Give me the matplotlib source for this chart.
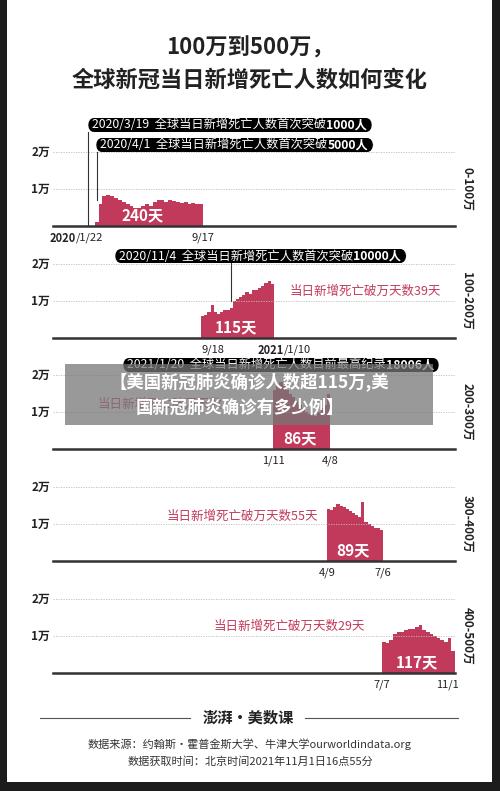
import numpy as np
import matplotlib.pyplot as plt
from matplotlib.patches import Rectangle, FancyBboxPatch

plt.rcParams['font.family'] = ['Noto Sans CJK SC', 'DejaVu Sans']

# daily deaths (10k units), sampled roughly every few days
p1 = [0, 0, 0.1, 0.6, 0.8, 0.85, 0.8, 0.75, 0.7, 0.65, 0.6, 0.55, 0.5, 0.5, 0.55,
      0.6, 0.55, 0.65, 0.7, 0.7, 0.65, 0.7, 0.68, 0.65, 0.62, 0.65, 0.6, 0.62, 0.6, 0.6]
p2 = [0.6, 0.62, 0.7, 0.9, 0.7, 0.65, 0.7, 0.75, 0.75, 0.8, 1.0, 1.05, 1.1, 1.15,
      1.25, 1.2, 1.3, 1.3, 1.35, 1.4, 1.5, 1.55, 1.45]
p3 = [1.6, 1.75, 1.8, 1.7, 1.6, 1.5, 1.4, 1.3, 1.2, 1.1, 1.0, 0.95, 0.95, 0.9, 1.0, 1.1, 1.2, 1.5]
p4 = [1.4, 1.38, 1.45, 1.55, 1.5, 1.45, 1.4, 1.35, 1.3, 1.25, 1.2, 1.6, 1.05, 1.0, 0.95, 0.9, 0.88, 0.85]
p5 = [0.85, 0.82, 0.9, 1.05, 1.1, 1.1, 1.15, 1.2, 1.2, 1.25, 1.3, 1.15, 1.1, 1.05, 1.0,
      0.95, 0.9, 0.85, 0.95, 0.6]
series = [p1, p2, p3, p4, p5]
ranges = ['0-100万', '100-200万', '200-300万', '300-400万', '400-500万']
days = ['240天', '115天', '86天', '89天', '117天']
starts = ['2020/1/22', '9/18', '1/11', '4/9', '7/7']
ends = ['9/17', '2021/1/10', '4/8', '7/6', '11/1']
wan_days = [None, '当日新增死亡破万天数39天', '当日新增死亡破万天数', '当日新增死亡破万天数55天', '当日新增死亡破万天数29天']

RED = '#c23a5b'
W, H = 500, 791
fig = plt.figure(figsize=(5, 7.91), dpi=100)
fig.patch.set_facecolor('#1c1c1c')

def fx(x):
    return x / W

def fy(y):
    return 1 - y / H

def txt(x, y, s, **kw):
    return fig.text(fx(x), fy(y), s, **kw)

bg = fig.add_axes([fx(7), fy(782), fx(485), 782 / H], zorder=-5)
bg.set_facecolor('white')
bg.set_xticks([]); bg.set_yticks([])
for s in bg.spines.values():
    s.set_visible(False)

txt(250, 48, '100万到500万，', ha='center', va='center', fontsize=16, fontweight='bold', color='#222')
txt(250, 80, '全球新冠当日新增死亡人数如何变化', ha='center', va='center', fontsize=16, fontweight='bold', color='#222')

bases = [226, 338, 449, 561, 673]
xspans = [(87, 203), (201, 274), (273, 330), (327, 383), (382, 455)]
unit = 37
for i, base in enumerate(bases):
    top = base - 2.1 * unit
    ax = fig.add_axes([fx(53), fy(base), fx(402), (base - top) / H], zorder=1)
    ax.set_xlim(53, 455)
    ax.set_ylim(0, 2.1)
    ax.axis('off')
    for g in (1, 2):
        ax.axhline(g, color='#bbb', lw=0.6, ls=(0, (1.5, 1.5)))
    ax.axhline(0, color='#333', lw=1.8, clip_on=False)
    vals = series[i]
    x0, x1 = xspans[i]
    w = (x1 - x0) / len(vals)
    xs = x0 + w * np.arange(len(vals))
    ax.bar(xs, vals, width=w * 1.02, align='edge', color=RED, linewidth=0)
    txt(50, base - unit, '1万', ha='right', va='center', fontsize=8.5, fontweight='bold', color='#222')
    txt(50, base - 2 * unit, '2万', ha='right', va='center', fontsize=8.5, fontweight='bold', color='#222')
    txt(467, base - unit, ranges[i], ha='center', va='center', rotation=-90, fontsize=8.5, fontweight='bold', color='#222')
    txt((x0 + x1) / 2 - 2, base - 11, days[i], ha='center', va='center',
        fontsize=11, fontweight='bold', color='white', zorder=3)
    if wan_days[i]:
        wx = [0, 365, 160, 242, 289][i]
        txt(wx, base - 47 if i in (1, 4) else base - 45, wan_days[i], ha='center', va='center', fontsize=9, color=RED)
    sy = base + 12
    if i == 0:
        txt(x0 - 37, sy, '2020', ha='left', va='center', fontsize=8, fontweight='bold', color='#222')
        txt(x0 - 11, sy, '/1/22', ha='left', va='center', fontsize=8, color='#222')
    else:
        txt(x0 + (12 if i == 1 else 0), sy, starts[i], ha='center', va='center', fontsize=8, color='#222')
    if i == 1:
        txt(x1 + 10, sy, '2021', ha='right', va='center', fontsize=8, fontweight='bold', color='#222')
        txt(x1 + 10, sy, '/1/10', ha='left', va='center', fontsize=8, color='#222')
    else:
        txt(x1 - (8 if i == 4 else 0), sy, ends[i], ha='center', va='center', fontsize=8, color='#222')

# callouts
callouts = [(86, 125, '2020/3/19  全球当日新增死亡人数首次突破', '1000人', 88, 226),
            (94, 145, '2020/4/1  全球当日新增死亡人数首次突破', '5000人', 97, 200),
            (113, 256, '2020/11/4  全球当日新增死亡人数首次突破', '10000人', 231, 301),
            (121, 365, '2021/1/20  全球当日新增死亡人数目前最高纪录', '18006人', None, None)]
fig.canvas.draw()
for x0, yc, s, n, lx, ly in callouts:
    if lx:
        fig.lines.append(plt.Line2D([fx(lx), fx(lx)], [fy(yc + 7), fy(ly)], transform=fig.transFigure,
                                    color='#333', lw=0.8, zorder=2))
    t = txt(x0 + 6, yc, s, ha='left', va='center', fontsize=8.8, color='white', zorder=3)
    ext = t.get_window_extent(renderer=fig.canvas.get_renderer())
    t2 = fig.text(ext.x1 / W, fy(yc), n, ha='left', va='center', fontsize=8.8, fontweight='bold',
                  color='white', zorder=3)
    x1 = t2.get_window_extent(renderer=fig.canvas.get_renderer()).x1 + 5
    fig.patches.append(FancyBboxPatch((fx(x0 + 2), fy(yc + 7)), fx(x1 - x0 - 2), 14 / H,
                                      boxstyle='round,pad=0,rounding_size=0.012', transform=fig.transFigure,
                                      facecolor='black', edgecolor='none', zorder=2))

# overlay banner
fig.patches.append(Rectangle((fx(65), fy(425)), fx(368), 61 / H, transform=fig.transFigure,
                             facecolor='#777', alpha=0.75, edgecolor='none', zorder=5))
txt(249, 382, '【美国新冠肺炎确诊人数超115万,美', ha='center', va='center', fontsize=12.5,
    fontweight='bold', color='white', zorder=6)
txt(240, 408, '国新冠肺炎确诊有多少例】', ha='center', va='center', fontsize=12.5,
    fontweight='bold', color='white', zorder=6)

# footer
for a, b in ((40, 190), (305, 458)):
    fig.lines.append(plt.Line2D([fx(a), fx(b)], [fy(718), fy(718)], transform=fig.transFigure, color='#555', lw=0.8))
txt(248, 718, '澎湃·美数课', ha='center', va='center', fontsize=11, fontweight='bold', color='#222')
txt(250, 744, '数据来源：约翰斯·霍普金斯大学、牛津大学ourworldindata.org', ha='center', va='center', fontsize=8, color='#333')
txt(250, 762, '数据获取时间：北京时间2021年11月1日16点55分', ha='center', va='center', fontsize=8, color='#333')

fig.savefig('out.png', dpi=100, facecolor=fig.get_facecolor())
